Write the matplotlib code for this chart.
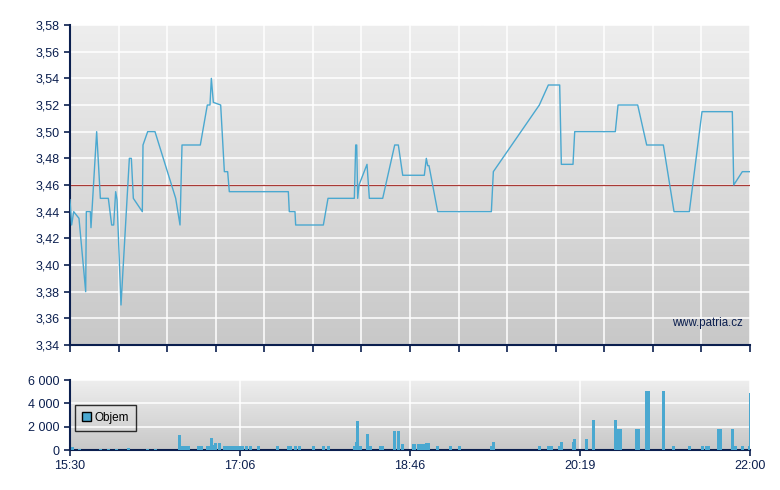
import numpy as np
import matplotlib.pyplot as plt
from matplotlib.colors import LinearSegmentedColormap
from matplotlib.patches import Patch
from matplotlib.ticker import FuncFormatter

plt.rcParams['font.family'] = ['Liberation Sans', 'DejaVu Sans']

# cena (osa x: poloha v dílcích mřížky 0..14)
price_x = [0, 0.034, 0.076, 0.185, 0.323, 0.336, 0.419, 0.432, 0.549, 0.625,
           0.789, 0.858, 0.899, 0.940, 0.968, 1.050, 1.222, 1.263, 1.304, 1.489,
           1.503, 1.599, 1.750, 2.176, 2.265, 2.306, 2.683, 2.827, 2.882, 2.910,
           2.951, 3.102, 3.178, 3.246, 3.280, 4.495, 4.515, 4.632, 4.646, 5.216,
           5.312, 5.854, 5.882, 5.903, 5.923, 5.950, 6.115, 6.163, 6.438, 6.685,
           6.760, 6.850, 7.295, 7.336, 7.365, 7.391, 7.570, 8.675, 8.716, 9.663,
           9.848, 10.082, 10.116, 10.356, 10.391, 11.227, 11.283, 11.688, 11.873, 12.216,
           12.436, 12.751, 13.012, 13.636, 13.665, 13.842, 14.0]
price_y = [3.449, 3.430, 3.440, 3.435, 3.380, 3.440, 3.440, 3.428, 3.500, 3.450,
           3.450, 3.430, 3.430, 3.455, 3.449, 3.370, 3.480, 3.480, 3.450, 3.440,
           3.490, 3.500, 3.500, 3.450, 3.430, 3.490, 3.490, 3.520, 3.520, 3.540,
           3.522, 3.520, 3.470, 3.470, 3.455, 3.455, 3.440, 3.440, 3.430, 3.430,
           3.450, 3.450, 3.490, 3.490, 3.450, 3.460, 3.4755, 3.450, 3.450, 3.490,
           3.490, 3.4673, 3.4673, 3.480, 3.4745, 3.4745, 3.440, 3.440, 3.470, 3.520,
           3.535, 3.535, 3.4755, 3.4755, 3.500, 3.500, 3.520, 3.520, 3.490, 3.490,
           3.440, 3.440, 3.515, 3.515, 3.460, 3.470, 3.470]
ref_price = 3.46

# objem
vol_x = [0.014, 0.165, 0.597, 0.762, 0.926, 1.174, 1.565, 1.729, 2.224, 2.285,
         2.347, 2.409, 2.615, 2.677, 2.800, 2.827, 2.882, 2.937, 2.965, 3.054,
         3.143, 3.205, 3.267, 3.329, 3.391, 3.452, 3.514, 3.603, 3.685, 3.850,
         4.241, 4.468, 4.500, 4.612, 4.694, 4.982, 5.188, 5.291, 5.827, 5.861,
         5.888, 5.943, 6.094, 6.149, 6.362, 6.403, 6.643, 6.733, 6.815, 7.035,
         7.070, 7.138, 7.193, 7.248, 7.309, 7.343, 7.529, 7.796, 7.982, 8.647,
         8.681, 9.629, 9.814, 9.876, 10.040, 10.082, 10.329, 10.356, 10.597, 10.741,
         11.194, 11.256, 11.297, 11.626, 11.667, 11.832, 11.873, 12.182, 12.388, 12.717,
         12.985, 13.067, 13.108, 13.314, 13.355, 13.602, 13.665, 13.808, 13.952]
vol_y = [230, 90, 90, 90, 90, 170, 90, 90, 1300, 350,
         350, 350, 350, 350, 350, 350, 1040, 460, 600, 600,
         350, 350, 350, 350, 350, 350, 350, 350, 350, 350,
         350, 350, 350, 350, 350, 350, 350, 350, 350, 700,
         2500, 350, 1400, 350, 350, 350, 1640, 1640, 520, 520,
         520, 520, 520, 520, 600, 600, 350, 350, 350, 350,
         700, 350, 350, 350, 350, 700, 700, 950, 950, 2600,
         2600, 1800, 1800, 1800, 1800, 5100, 5100, 5100, 350, 350,
         350, 350, 350, 1800, 1800, 1800, 350, 350, 350]
last_vol = 4870

x_ticks_bottom = [0, 3.5, 7, 10.5, 14]
x_labels_bottom = ['15:30', '17:06', '18:46', '20:19', '22:00']

navy = '#0b1f4f'
blue = '#4aa8d0'
grad = LinearSegmentedColormap.from_list('bg', ['#c8c8c8', '#eeeeee'])

fig = plt.figure(figsize=(7.8, 4.9), dpi=100)
ax = fig.add_axes([70/780, 145/490, 680/780, 320/490])
ax2 = fig.add_axes([70/780, 40/490, 680/780, 70/490])

for a in (ax, ax2):
    a.imshow(np.linspace(0, 1, 256).reshape(-1, 1), extent=[0, 1, 0, 1],
             transform=a.transAxes, cmap=grad, aspect='auto', origin='lower', zorder=-1)
    a.set_axisbelow(True)
    a.grid(True, color='white', lw=1.1)
    for s in ('top', 'right'):
        a.spines[s].set_visible(False)
    for s in ('left', 'bottom'):
        a.spines[s].set_color(navy)
        a.spines[s].set_linewidth(1.5)
    a.tick_params(colors=navy, labelcolor=navy, labelsize=9, length=4, width=1.2)
    a.set_xlim(0, 14)

# horní graf
ax.plot(price_x, price_y, color=blue, lw=1.0, zorder=3)
ax.axhline(ref_price, color='#a83a36', lw=0.9, zorder=2)
ax.set_ylim(3.34, 3.58)
ax.set_yticks(np.arange(3.34, 3.581, 0.02))
ax.yaxis.set_major_formatter(FuncFormatter(lambda v, p: f'{v:.2f}'.replace('.', ',')))
ax.set_xticks(range(15))
ax.set_xticklabels([])
ax.tick_params(axis='x', length=5)
ax.text(0.99, 0.068, 'www.patria.cz', transform=ax.transAxes, ha='right', va='center',
        color=navy, fontsize=8.3)

# dolní graf
ax2.bar(vol_x, vol_y, width=0.062, align='edge', color=blue, zorder=3)
ax2.bar([13.985], [last_vol], width=0.02, align='edge', color=blue, zorder=3)
ax2.set_ylim(0, 6000)
ax2.set_yticks([0, 2000, 4000, 6000])
ax2.yaxis.set_major_formatter(FuncFormatter(lambda v, p: f'{int(v):,}'.replace(',', ' ')))
ax2.set_xticks(x_ticks_bottom)
ax2.set_xticklabels(x_labels_bottom)
ax2.legend(handles=[Patch(facecolor=blue, edgecolor='black', label='Objem')],
           loc='upper left', bbox_to_anchor=(0.007, 0.65), borderaxespad=0,
           frameon=True, fancybox=False, facecolor='none', edgecolor='black',
           fontsize=8.5, handlelength=0.8, handleheight=0.8, handletextpad=0.3,
           borderpad=0.6, labelcolor='black')

fig.savefig('out.png', dpi=100, facecolor='white')
